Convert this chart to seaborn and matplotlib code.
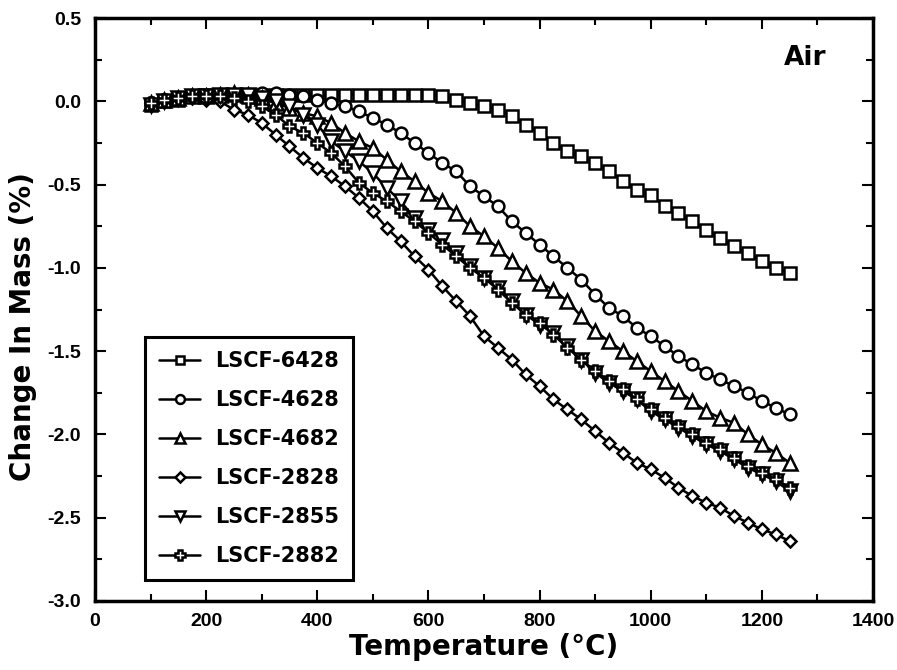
import matplotlib
matplotlib.use("Agg")
import matplotlib.pyplot as plt
from matplotlib.ticker import MultipleLocator
import seaborn as sns
import numpy as np
import pandas as pd

# Temperature grid of the TGA runs (deg C)
temperature = [100, 125, 150, 175, 200, 225, 250, 275, 300, 325, 350, 375, 400,
               425, 450, 475, 500, 525, 550, 575, 600, 625, 650, 675, 700, 725,
               750, 775, 800, 825, 850, 875, 900, 925, 950, 975, 1000, 1025,
               1050, 1075, 1100, 1125, 1150, 1175, 1200, 1225, 1250]

# Change in mass (%) for each composition, heating in air
lscf_6428 = [-0.02, 0.00, 0.01, 0.03, 0.04, 0.04, 0.04, 0.04, 0.04, 0.04, 0.04,
             0.04, 0.04, 0.04, 0.04, 0.04, 0.04, 0.04, 0.04, 0.04, 0.04, 0.03,
             0.01, -0.01, -0.03, -0.05, -0.09, -0.14, -0.19, -0.25, -0.30,
             -0.33, -0.37, -0.42, -0.48, -0.53, -0.56, -0.63, -0.67, -0.72,
             -0.77, -0.82, -0.87, -0.91, -0.96, -1.00, -1.03]
lscf_4628 = [-0.01, 0.01, 0.02, 0.03, 0.03, 0.03, 0.04, 0.04, 0.05, 0.05, 0.04,
             0.03, 0.01, -0.01, -0.03, -0.06, -0.10, -0.14, -0.19, -0.25,
             -0.31, -0.37, -0.42, -0.51, -0.57, -0.63, -0.72, -0.79, -0.86,
             -0.93, -1.00, -1.07, -1.16, -1.24, -1.29, -1.36, -1.41, -1.47,
             -1.53, -1.58, -1.63, -1.67, -1.71, -1.75, -1.80, -1.84, -1.88]
lscf_4682 = [-0.01, 0.01, 0.02, 0.03, 0.03, 0.04, 0.05, 0.04, 0.02, -0.01,
             -0.04, -0.07, -0.09, -0.13, -0.19, -0.24, -0.28, -0.35, -0.42,
             -0.48, -0.55, -0.60, -0.67, -0.75, -0.81, -0.88, -0.96, -1.03,
             -1.09, -1.13, -1.20, -1.29, -1.38, -1.44, -1.50, -1.56, -1.62,
             -1.68, -1.74, -1.80, -1.86, -1.90, -1.93, -2.00, -2.06, -2.11,
             -2.17]
lscf_2828 = [-0.01, 0.01, 0.02, 0.02, 0.01, 0.00, -0.05, -0.08, -0.13, -0.20,
             -0.27, -0.34, -0.40, -0.45, -0.51, -0.58, -0.66, -0.76, -0.84,
             -0.93, -1.01, -1.11, -1.20, -1.29, -1.41, -1.48, -1.55, -1.64,
             -1.71, -1.79, -1.85, -1.91, -1.98, -2.05, -2.11, -2.17, -2.21,
             -2.26, -2.32, -2.37, -2.41, -2.44, -2.49, -2.53, -2.57, -2.60,
             -2.64]
lscf_2855 = [-0.02, 0.00, 0.02, 0.03, 0.03, 0.04, 0.04, 0.04, 0.02, 0.00,
             -0.03, -0.08, -0.14, -0.24, -0.30, -0.36, -0.43, -0.52, -0.60,
             -0.70, -0.77, -0.83, -0.91, -0.99, -1.06, -1.12, -1.20, -1.28,
             -1.34, -1.39, -1.47, -1.55, -1.63, -1.69, -1.74, -1.79, -1.86,
             -1.91, -1.96, -2.01, -2.06, -2.10, -2.15, -2.20, -2.24, -2.28,
             -2.34]
lscf_2882 = [-0.01, 0.01, 0.02, 0.03, 0.03, 0.03, 0.02, 0.00, -0.03, -0.08,
             -0.15, -0.19, -0.25, -0.31, -0.39, -0.49, -0.55, -0.60, -0.66,
             -0.72, -0.79, -0.86, -0.93, -1.00, -1.06, -1.13, -1.21, -1.28,
             -1.33, -1.40, -1.48, -1.55, -1.62, -1.68, -1.73, -1.79, -1.85,
             -1.90, -1.95, -2.00, -2.05, -2.09, -2.14, -2.19, -2.23, -2.27,
             -2.32]

series_names = ["LSCF-6428", "LSCF-4628", "LSCF-4682",
                "LSCF-2828", "LSCF-2855", "LSCF-2882"]
series_values = [lscf_6428, lscf_4628, lscf_4682,
                 lscf_2828, lscf_2855, lscf_2882]
x_ticks = [0, 200, 400, 600, 800, 1000, 1200, 1400]
y_ticks = [0.5, 0.0, -0.5, -1.0, -1.5, -2.0, -2.5, -3.0]

sns.set_theme(style="ticks")
plt.rcParams["font.family"] = ["Liberation Sans", "DejaVu Sans"]
plt.rcParams["font.weight"] = "bold"
for key in ("text.color", "axes.labelcolor", "xtick.color", "ytick.color",
            "axes.edgecolor"):
    plt.rcParams[key] = "black"

WIDE = ["DejaVu Sans"]

marker_style = {
    "LSCF-6428": dict(marker="s", markersize=8.5),
    "LSCF-4628": dict(marker="o", markersize=8.5),
    "LSCF-4682": dict(marker="^", markersize=9.5),
    "LSCF-2828": dict(marker="D", markersize=6.5),
    "LSCF-2855": dict(marker="v", markersize=9.5),
    "LSCF-2882": dict(marker="P", markersize=9.0),
}

fig = plt.figure(figsize=(8.97, 6.70), dpi=100)
ax = fig.add_axes([0.1059, 0.103, 0.8673, 0.870])

for name, vals in zip(series_names, series_values):
    df = pd.DataFrame({"Temperature": temperature, "Mass": vals})
    sns.lineplot(data=df, x="Temperature", y="Mass", ax=ax, color="black",
                 linewidth=1.8, markerfacecolor="white",
                 markeredgecolor="black", markeredgewidth=1.8,
                 label=name, **marker_style[name])

ax.set_xlim(0, 1400)
ax.set_ylim(-3.0, 0.5)
ax.set_xticks(x_ticks)
ax.set_yticks(y_ticks)
ax.set_xticklabels([str(t) for t in x_ticks])
ax.set_yticklabels([f"{t:.1f}" for t in y_ticks])
ax.xaxis.set_minor_locator(MultipleLocator(100))
ax.yaxis.set_minor_locator(MultipleLocator(0.25))
ax.tick_params(which="both", direction="in", top=True, right=True,
               width=1.5, colors="black", labelsize=14)
ax.tick_params(axis="x", which="major", pad=9)
ax.tick_params(axis="y", which="major", pad=10)
ax.tick_params(which="major", length=8)
ax.tick_params(which="minor", length=5)
for lab in ax.get_xticklabels() + ax.get_yticklabels():
    lab.set_fontweight("bold")
for sp in ax.spines.values():
    sp.set_linewidth(2.5)
    sp.set_color("black")

ax.set_xlabel("Temperature (°C)", fontsize=20, fontweight="bold",
              family=WIDE, labelpad=2)
ax.set_ylabel("Change In Mass (%)", fontsize=20, fontweight="bold",
              family=WIDE)
ax.yaxis.set_label_coords(-0.074, 0.47)

ax.text(1316, 0.26, "Air", ha="right", va="center",
        fontsize=19, fontweight="bold", family=WIDE)

leg = ax.legend(loc="lower left", bbox_to_anchor=(0.064, 0.036),
                borderaxespad=0, frameon=True, fancybox=False,
                prop=dict(family=WIDE, weight="bold", size=15),
                handlelength=2.0, handletextpad=0.7, labelspacing=0.91,
                borderpad=0.67, markerscale=0.75)
leg.get_frame().set_edgecolor("black")
leg.get_frame().set_linewidth(2.2)
leg.get_frame().set_alpha(1)

fig.savefig("out.png", dpi=100, facecolor="white")
